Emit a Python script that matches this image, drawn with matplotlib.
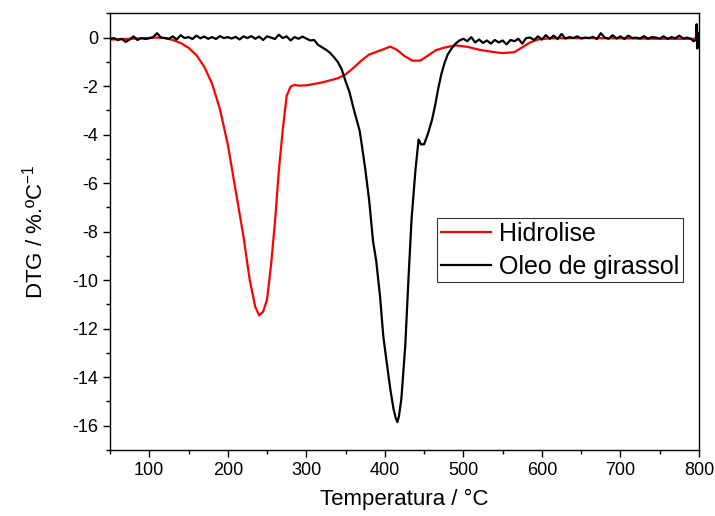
import numpy as np
import matplotlib
matplotlib.use('Agg')
import matplotlib.pyplot as plt
from matplotlib.ticker import MultipleLocator

plt.rcParams['font.family'] = ['Liberation Sans', 'DejaVu Sans']
plt.rcParams['mathtext.fontset'] = 'custom'
plt.rcParams['mathtext.rm'] = 'Liberation Sans'
plt.rcParams['axes.unicode_minus'] = False

# Hidrolise (red)
temp_hidro = [50, 70, 90, 110, 120, 130, 140, 150, 160, 170, 180, 190, 200, 210, 220,
              228, 235, 240, 245, 250, 255, 260, 265, 270, 275, 280, 285, 290, 300,
              320, 340, 350, 360, 370, 380, 390, 400, 407, 415, 425, 435, 445, 455,
              465, 475, 490, 505, 520, 535, 550, 565, 575, 585, 595, 610, 650, 700,
              750, 800]
dtg_hidro = [-0.08, -0.06, -0.03, 0.0, -0.02, -0.1, -0.22, -0.42, -0.72, -1.2, -1.9,
             -2.95, -4.4, -6.3, -8.2, -10.0, -11.1, -11.45, -11.3, -10.8, -9.4, -7.65,
             -5.5, -3.8, -2.4, -2.02, -1.95, -1.98, -1.97, -1.85, -1.68, -1.52, -1.25,
             -0.95, -0.7, -0.58, -0.46, -0.37, -0.5, -0.76, -0.95, -0.95, -0.74, -0.52,
             -0.42, -0.32, -0.38, -0.5, -0.58, -0.64, -0.6, -0.4, -0.2, -0.08, -0.03,
             -0.02, -0.03, -0.05, -0.05]

# Oleo de girassol (black)
temp_oleo = [50, 55, 60, 65, 70, 75, 80, 85, 90, 95, 100, 105, 110, 115, 120, 125, 130,
             135, 140, 145, 150, 155, 160, 165, 170, 175, 180, 185, 190, 195, 200, 205,
             210, 215, 220, 225, 230, 235, 240, 245, 250, 255, 260, 265, 270, 275, 280,
             285, 290, 295, 300, 305, 310, 315, 320, 325, 330, 335, 340, 345, 350, 355,
             360, 365, 368, 371, 375, 380, 385, 389, 394, 398, 402, 407, 411, 414, 416,
             418, 421, 424, 426, 430, 434, 439, 443, 446, 450, 455, 460, 464, 468, 472,
             476, 480, 485, 490, 495, 500, 505, 510, 515, 520, 525, 530, 535, 540, 545,
             550, 555, 560, 565, 570, 575, 580, 585, 590, 595, 600, 605, 610, 615, 620,
             625, 630, 635, 640, 645, 650, 655, 660, 665, 670, 675, 680, 685, 690, 695,
             700, 705, 710, 715, 720, 725, 730, 735, 740, 745, 750, 755, 760, 765, 770,
             775, 780, 785, 790, 793, 796, 797, 798, 799, 800]
dtg_oleo = [-0.05, -0.02, -0.1, -0.05, -0.18, -0.08, 0.05, -0.1, -0.02, -0.06, -0.03,
            0.02, 0.18, 0.0, -0.02, -0.05, 0.05, -0.08, 0.1, -0.02, 0.02, -0.06, 0.08,
            -0.03, 0.04, -0.05, 0.02, -0.06, 0.06, -0.02, 0.02, -0.04, 0.03, -0.08, 0.05,
            -0.02, 0.06, -0.05, 0.04, -0.1, 0.05, 0.0, -0.06, 0.12, -0.02, 0.05, -0.12,
            0.02, -0.05, 0.04, -0.04, -0.12, -0.1, -0.3, -0.4, -0.5, -0.62, -0.8, -1.0,
            -1.3, -1.8, -2.25, -2.9, -3.5, -3.85, -4.5, -5.4, -6.7, -8.4, -9.2, -10.7,
            -12.3, -13.3, -14.5, -15.3, -15.7, -15.85, -15.6, -14.9, -13.6, -12.7, -10.0,
            -7.5, -5.45, -4.2, -4.4, -4.4, -3.95, -3.4, -2.8, -2.1, -1.5, -1.05, -0.7,
            -0.45, -0.25, -0.12, -0.05, -0.15, 0.02, -0.2, -0.08, -0.22, -0.12, -0.25,
            -0.1, -0.2, -0.12, -0.28, -0.1, -0.15, -0.05, -0.25, -0.02, 0.0, -0.1, 0.05,
            -0.08, 0.1, -0.05, 0.08, -0.06, 0.15, -0.04, 0.02, -0.02, 0.05, -0.04, 0.0,
            -0.02, 0.03, -0.06, 0.18, 0.0, -0.05, 0.1, -0.04, 0.05, -0.06, 0.08, -0.02,
            0.0, -0.04, 0.06, -0.05, 0.02, 0.0, -0.04, 0.05, -0.05, 0.02, -0.03, 0.08,
            -0.04, 0.0, -0.06, -0.15, -0.1, 0.55, -0.45, 0.2, 0.1]

fig = plt.figure(figsize=(7.15, 5.16), dpi=100)
ax = fig.add_axes([0.1538, 0.1279, 0.8238, 0.8463])

ax.plot(temp_hidro, dtg_hidro, color='#ff0000', lw=1.6, label='Hidrolise')
ax.plot(temp_oleo, dtg_oleo, color='black', lw=1.6, label='Oleo de girassol')

ax.set_xlim(50, 800)
ax.set_ylim(-17, 1)
ax.xaxis.set_major_locator(MultipleLocator(100))
ax.xaxis.set_minor_locator(MultipleLocator(50))
ax.yaxis.set_major_locator(MultipleLocator(2))
ax.yaxis.set_minor_locator(MultipleLocator(1))
ax.tick_params(which='major', direction='out', length=5, width=1, labelsize=13)
ax.tick_params(which='minor', direction='out', length=3, width=1)
for s in ax.spines.values():
    s.set_linewidth(1)

ax.set_xlabel('Temperatura / °C', fontsize=16, labelpad=7)
ax.set_ylabel('DTG / %.ºC$^{\\mathregular{-1}}$', fontsize=16, labelpad=18)

leg = ax.legend(loc='upper left', bbox_to_anchor=(0.556, 0.531), borderaxespad=0,
                fontsize=18, fancybox=False, frameon=True, edgecolor='black',
                handlelength=2.0, handletextpad=0.3, labelspacing=0.35, borderpad=0.15)
leg.get_frame().set_linewidth(0.8)

fig.savefig('out.png', dpi=100)
